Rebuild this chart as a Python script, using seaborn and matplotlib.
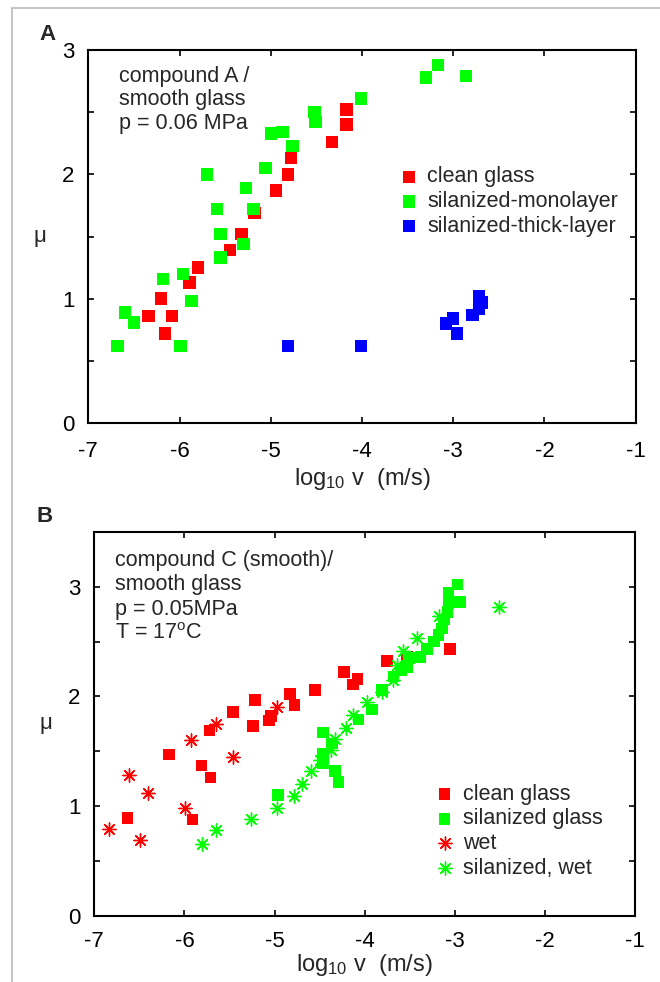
import matplotlib
matplotlib.use("Agg")
import matplotlib.pyplot as plt
from matplotlib.lines import Line2D
from matplotlib.ticker import FixedLocator, FixedFormatter
import seaborn as sns
import pandas as pd

# ---------------- data ----------------
# Panel A: compound A / smooth glass, p = 0.06 MPa
A_clean_x = [-6.34, -6.16, -6.20, -6.08, -5.89, -5.80, -5.45, -5.32, -5.18, -4.94, -4.81, -4.78, -4.33, -4.17, -4.17]
A_clean_y = [0.86, 0.72, 1.00, 0.86, 1.13, 1.25, 1.39, 1.52, 1.69, 1.87, 2.00, 2.13, 2.26, 2.52, 2.40]
A_mono_x = [-6.68, -6.60, -6.50, -5.99, -6.18, -5.96, -5.87, -5.70, -5.59, -5.55, -5.55, -5.30, -5.27, -5.19,
            -5.06, -5.00, -4.87, -4.76, -4.52, -4.51, -4.01, -3.30, -3.17, -2.86]
A_mono_y = [0.62, 0.89, 0.81, 0.62, 1.16, 1.20, 0.98, 2.00, 1.72, 1.52, 1.33, 1.44, 1.89, 1.72,
            2.05, 2.33, 2.34, 2.23, 2.50, 2.42, 2.61, 2.78, 2.88, 2.79]
A_thick_x = [-4.81, -4.01, -3.08, -3.00, -2.96, -2.79, -2.72, -2.69, -2.72]
A_thick_y = [0.62, 0.62, 0.80, 0.84, 0.72, 0.87, 1.02, 0.97, 0.92]

# Panel B: compound C (smooth) / smooth glass, p = 0.05 MPa, T = 17 C
B_clean_x = [-6.63, -6.17, -5.81, -5.71, -5.72, -5.91, -5.46, -5.22, -5.24, -5.06, -5.04, -4.83, -4.78, -4.55,
             -4.23, -4.08, -4.13, -3.75, -3.53, -3.05]
B_clean_y = [0.89, 1.47, 1.37, 1.26, 1.69, 0.88, 1.86, 1.97, 1.73, 1.78, 1.82, 2.02, 1.92, 2.06,
             2.22, 2.16, 2.11, 2.32, 2.36, 2.43]
B_sil_x = [-4.96, -4.46, -4.46, -4.46, -4.36, -4.33, -4.29, -4.07, -3.92, -3.81, -3.68, -3.60, -3.53, -3.51,
           -3.38, -3.31, -3.23, -3.18, -3.14, -3.12, -3.08, -3.07, -3.07, -2.94, -2.97]
B_sil_y = [1.10, 1.67, 1.48, 1.39, 1.57, 1.32, 1.22, 1.79, 1.88, 2.06, 2.18, 2.24, 2.27, 2.35,
           2.36, 2.43, 2.50, 2.56, 2.62, 2.70, 2.77, 2.85, 2.94, 2.86, 3.02]
B_wet_x = [-6.84, -6.62, -6.49, -6.40, -5.93, -5.99, -5.65, -5.46, -4.97]
B_wet_y = [0.79, 1.28, 0.69, 1.12, 1.60, 0.98, 1.75, 1.45, 1.90]
B_silwet_x = [-5.81, -5.65, -5.26, -4.97, -4.78, -4.69, -4.60, -4.49, -4.37, -4.33, -4.21, -4.13, -3.97,
              -3.81, -3.68, -3.64, -3.57, -3.42, -3.18, -2.51]
B_silwet_y = [0.66, 0.78, 0.88, 0.98, 1.09, 1.20, 1.32, 1.42, 1.51, 1.61, 1.71, 1.83, 1.95,
              2.04, 2.15, 2.29, 2.41, 2.53, 2.73, 2.81]

x_ticks = [-7, -6, -5, -4, -3, -2, -1]
x_ticklabels = ["-7", "-6", "-5", "-4", "-3", "-2", "-1"]

# ---------------- style ----------------
sns.set_style("white")
plt.rcParams["font.family"] = ["Liberation Sans", "DejaVu Sans"]
plt.rcParams["mathtext.fontset"] = "custom"
plt.rcParams["mathtext.rm"] = "Liberation Sans"
plt.rcParams["mathtext.it"] = "Liberation Sans"
plt.rcParams["axes.unicode_minus"] = False

RED, GREEN, BLUE = "#ff0000", "#00ff00", "#0000ff"
STAR = (8, 2, 0)

fig = plt.figure(figsize=(6.6, 9.82), dpi=100)
axA = fig.add_axes([88.3 / 660, 1 - 423 / 982, (635.7 - 88.3) / 660, (423 - 50) / 982])
axB = fig.add_axes([94.3 / 660, 1 - 916 / 982, (635 - 94.3) / 660, (916 - 531.7) / 982])

# page frame lines
fig.add_artist(Line2D([12 / 660, 12 / 660], [0, 1 - 8 / 982], transform=fig.transFigure, color="#bbbbbb", lw=1.2))
fig.add_artist(Line2D([12 / 660, 1], [1 - 8 / 982, 1 - 8 / 982], transform=fig.transFigure, color="#bbbbbb", lw=1.2))


def sq(ax, x, y, color, label, s):
    df = pd.DataFrame({"x": x, "y": y})
    sns.scatterplot(data=df, x="x", y="y", ax=ax, color=color, marker="s", s=s,
                    edgecolor="none", linewidth=0, label=label, zorder=3)


def star(ax, x, y, color, label, s):
    df = pd.DataFrame({"x": x, "y": y})
    sns.scatterplot(data=df, x="x", y="y", ax=ax, color=color, marker=STAR, s=s,
                    linewidth=1.0, label=label, zorder=4)


# Panel A
sq(axA, A_clean_x, A_clean_y, RED, "clean glass", 80)
sq(axA, A_mono_x, A_mono_y, GREEN, "silanized-monolayer", 80)
sq(axA, A_thick_x, A_thick_y, BLUE, "silanized-thick-layer", 80)

# Panel B
sq(axB, B_clean_x, B_clean_y, RED, "clean glass", 70)
sq(axB, B_sil_x, B_sil_y, GREEN, "silanized glass", 70)
star(axB, B_wet_x, B_wet_y, RED, "wet", 90)
star(axB, B_silwet_x, B_silwet_y, GREEN, "silanized, wet", 90)


def style_axes(ax, ymax, ylabels, xpad, labelpad):
    ax.set_xlim(-7, -1)
    ax.set_ylim(0, ymax)
    ax.xaxis.set_major_locator(FixedLocator(x_ticks))
    ax.xaxis.set_major_formatter(FixedFormatter(x_ticklabels))
    yt = [i * 0.5 for i in range(int(ymax * 2) + 1)]
    ax.yaxis.set_major_locator(FixedLocator(yt))
    ax.yaxis.set_major_formatter(FixedFormatter([str(int(v)) if v in ylabels else "" for v in yt]))
    ax.tick_params(axis="both", direction="in", length=4, width=1.2, labelsize=16,
                   top=True, right=True, bottom=True, left=True, colors="black")
    ax.tick_params(axis="x", pad=xpad)
    ax.tick_params(axis="y", pad=10)
    for sp in ax.spines.values():
        sp.set_visible(True)
        sp.set_color("black")
        sp.set_linewidth(1.5)
    ax.set_xlabel(r"log$_{10}$ v  (m/s)", fontsize=17, labelpad=labelpad)
    ax.set_ylabel("μ", fontsize=16, rotation=0, labelpad=16, va="center")
    ax.grid(False)


style_axes(axA, 3, [0, 1, 2, 3], 13, 3)
style_axes(axB, 3.5, [0, 1, 2, 3], 11, 0)

# legends
axA.legend(loc="upper left", bbox_to_anchor=(0.566, 0.688), frameon=False, fontsize=15.5,
           handletextpad=0.34, handlelength=1.0, labelspacing=0.17, borderpad=0, borderaxespad=0,
           markerscale=1.0)
axB.legend(loc="upper left", bbox_to_anchor=(0.628, 0.344), frameon=False, fontsize=15.5,
           handletextpad=0.34, handlelength=1.0, labelspacing=0.17, borderpad=0, borderaxespad=0,
           markerscale=1.0)

# annotations
axA.text(0.056, 0.957, "compound A /\nsmooth glass\np = 0.06 MPa", transform=axA.transAxes,
         ha="left", va="top", fontsize=15.5, linespacing=1.15)
axB.text(0.039, 0.952, "compound C (smooth)/\nsmooth glass\np = 0.05MPa\nT = 17$^\\mathrm{o}$C",
         transform=axB.transAxes, ha="left", va="top", fontsize=15.5, linespacing=1.2)

# panel labels
fig.text(47 / 660, 1 - 35 / 982, "A", fontsize=16, fontweight="bold", ha="center", va="center")
fig.text(45 / 660, 1 - 517 / 982, "B", fontsize=16, fontweight="bold", ha="center", va="center")

fig.savefig("out.png", dpi=100)
